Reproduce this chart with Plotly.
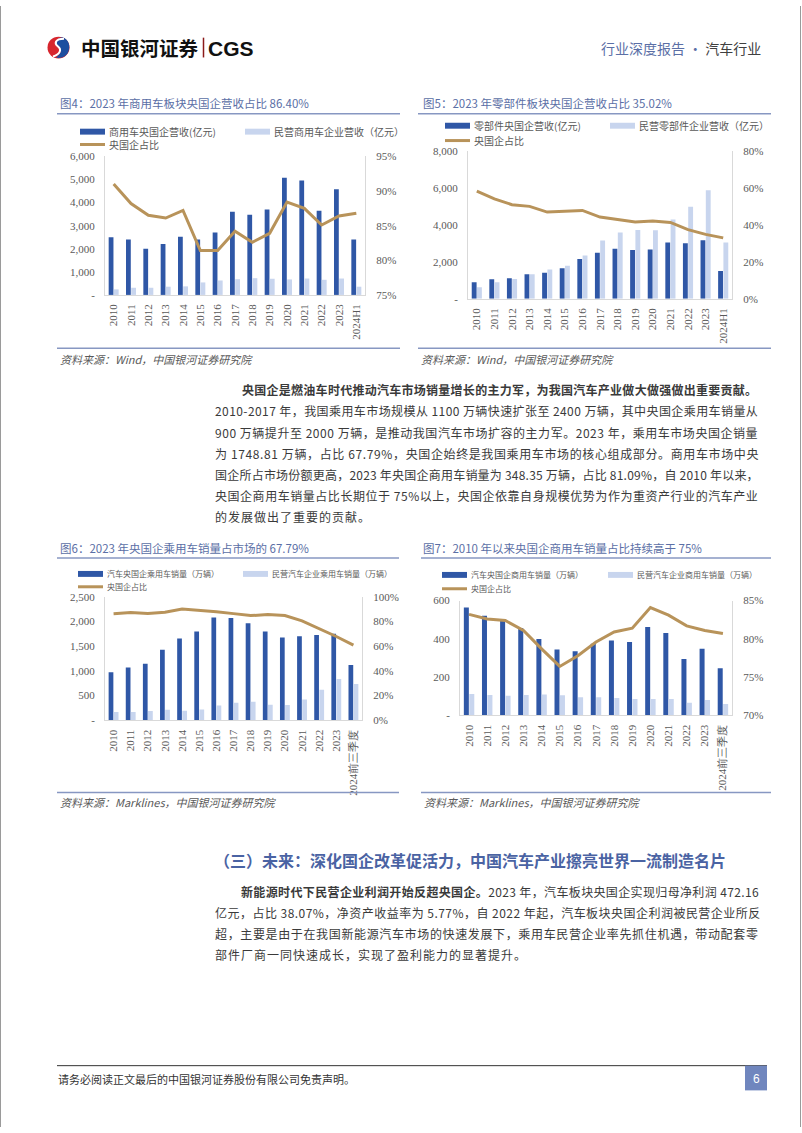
import plotly.graph_objects as go

W, H = 802, 1133
def px(x): return x / W
def py(y): return 1 - y / H

# ---------------- data ----------------
cv_categories = ["2010", "2011", "2012", "2013", "2014", "2015", "2016", "2017",
                 "2018", "2019", "2020", "2021", "2022", "2023", "2024H1"]
cv_soe_revenue = [2500, 2400, 2000, 2200, 2520, 2400, 2700, 3600, 3470, 3700, 5080, 4960, 3650, 4580, 2400]
cv_private_revenue = [240, 310, 310, 355, 370, 540, 625, 680, 725, 700, 670, 710, 655, 710, 355]
cv_soe_share = [91.0, 88.2, 86.5, 86.1, 87.2, 81.4, 81.4, 84.2, 82.6, 83.9, 88.4, 87.5, 85.1, 86.4, 86.8]

parts_categories = cv_categories
parts_soe_revenue = [900, 1060, 1115, 1330, 1420, 1655, 2160, 2500, 2715, 2645, 2680, 3060, 3020, 3180, 1510]
parts_private_revenue = [630, 900, 1080, 1330, 1600, 1800, 2355, 3165, 3600, 3740, 3720, 4300, 5000, 5900, 3060]
parts_soe_share = [58.4, 54.3, 51.1, 50.2, 47.1, 47.6, 48.0, 44.4, 43.1, 41.7, 42.2, 41.5, 37.6, 35.0, 33.1]

sales_categories = ["2010", "2011", "2012", "2013", "2014", "2015", "2016", "2017",
                    "2018", "2019", "2020", "2021", "2022", "2023", "2024前三季度"]
pv_soe_sales = [972, 1066, 1146, 1427, 1655, 1796, 2078, 2071, 1964, 1796, 1676, 1702, 1723, 1749, 1119]
pv_private_sales = [168, 168, 188, 214, 194, 221, 302, 355, 375, 315, 308, 422, 617, 838, 737]
pv_soe_share = [86.1, 87.1, 86.3, 87.4, 90.1, 89.3, 87.9, 86.3, 84.7, 85.5, 84.7, 80.4, 74.3, 67.8, 60.9]

cvs_soe_sales = [564, 521, 503, 457, 400, 345, 336, 375, 391, 384, 462, 431, 295, 348, 247]
cvs_private_sales = [112, 107, 103, 107, 109, 105, 95, 95, 91, 86, 86, 86, 66, 81, 59]
cvs_soe_share = [83.2, 82.6, 82.4, 81.1, 78.7, 76.4, 77.8, 79.6, 80.9, 81.4, 84.1, 83.1, 81.7, 81.1, 80.7]

# axis ticks
ticks4_left = [0, 1000, 2000, 3000, 4000, 5000, 6000]
ticks4_left_text = ["-", "1,000", "2,000", "3,000", "4,000", "5,000", "6,000"]
ticks4_right = [75, 80, 85, 90, 95]
ticks5_left = [0, 2000, 4000, 6000, 8000]
ticks5_left_text = ["-", "2,000", "4,000", "6,000", "8,000"]
ticks5_right = [0, 20, 40, 60, 80]
ticks6_left = [0, 500, 1000, 1500, 2000, 2500]
ticks6_left_text = ["-", "500", "1,000", "1,500", "2,000", "2,500"]
ticks6_right = [0, 20, 40, 60, 80, 100]
ticks7_left = [0, 200, 400, 600]
ticks7_left_text = ["-", "200", "400", "600"]
ticks7_right = [70, 75, 80, 85]

# ---------------- styles ----------------
DARK = "#2F57A6"
LIGHT = "#C8D5EE"
GOLD = "#B8935A"
AXIS = "#D9D9D9"
TICK = "#595959"
TITLE_C = "#5B6FA6"
RULE_C = "#8797C2"
SERIF = "Liberation Serif, Times New Roman, serif"
CJK = "Noto Sans CJK SC, sans-serif"

charts = [
    dict(cats=cv_categories, soe=cv_soe_revenue, pri=cv_private_revenue, share=cv_soe_share,
         names=("商用车央国企营收(亿元)", "民营商用车企业营收（亿元）", "央国企占比"),
         box=(105, 365, 152, 292), yl=(0, 6000, ticks4_left, ticks4_left_text), yr=(75, 95, ticks4_right),
         title="图4：2023 年商用车板块央国企营收占比 86.40%", tx=58, ty=98, rule=(57, 400, 109),
         src="资料来源：Wind，中国银河证券研究院", srule=(57, 400, 346), sy=357,
         leg=(80, 245, 127, 140), legfs=10),
    dict(cats=parts_categories, soe=parts_soe_revenue, pri=parts_private_revenue, share=parts_soe_share,
         names=("零部件央国企营收(亿元)", "民营零部件企业营收（亿元）", "央国企占比"),
         box=(468, 732, 147, 296), yl=(0, 8000, ticks5_left, ticks5_left_text), yr=(0, 80, ticks5_right),
         title="图5：2023 年零部件板块央国企营收占比 35.02%", tx=421, ty=98, rule=(418, 771, 109),
         src="资料来源：Wind，中国银河证券研究院", srule=(418, 771, 346), sy=357,
         leg=(445, 610, 121, 136), legfs=10),
    dict(cats=sales_categories, soe=pv_soe_sales, pri=pv_private_sales, share=pv_soe_share,
         names=("汽车央国企乘用车销量（万辆）", "民营汽车企业乘用车销量（万辆）", "央国企占比"),
         box=(105, 362, 597, 722), yl=(0, 2500, ticks6_left, ticks6_left_text), yr=(0, 100, ticks6_right),
         title="图6：2023 年央国企乘用车销量占市场的 67.79%", tx=58, ty=548, rule=(57, 399, 558),
         src="资料来源：Marklines，中国银河证券研究院", srule=(57, 399, 795), sy=805,
         leg=(78, 243, 574, 587), legfs=8),
    dict(cats=sales_categories, soe=cvs_soe_sales, pri=cvs_private_sales, share=cvs_soe_share,
         names=("汽车央国企商用车销量（万辆）", "民营汽车企业商用车销量（万辆）", "央国企占比"),
         box=(460, 732, 601, 717), yl=(0, 600, ticks7_left, ticks7_left_text), yr=(70, 85, ticks7_right),
         title="图7：2010 年以来央国企商用车销量占比持续高于 75%", tx=421, ty=548, rule=(421, 771, 558),
         src="资料来源：Marklines，中国银河证券研究院", srule=(421, 771, 795), sy=805,
         leg=(442, 608, 575, 589), legfs=8),
]

fig = go.Figure()
layout = dict(width=W, height=H, margin=dict(l=0, r=0, t=0, b=0),
              paper_bgcolor="white", plot_bgcolor="white", showlegend=False,
              barmode="group", bargap=0.4, bargroupgap=0.08)
shapes = []
annotations = []

def ann(text, x, y, size, color="#333333", family=CJK, xanchor="left", yanchor="middle"):
    annotations.append(dict(text=text, x=px(x), y=py(y), xref="paper", yref="paper",
                            xanchor=xanchor, yanchor=yanchor, showarrow=False,
                            font=dict(family=family, size=size, color=color)))

def hline(x0, x1, y, color, width=1):
    shapes.append(dict(type="line", xref="paper", yref="paper", x0=px(x0), x1=px(x1),
                       y0=py(y), y1=py(y), line=dict(color=color, width=width)))

def rect(x0, x1, y0, y1, color):
    shapes.append(dict(type="rect", xref="paper", yref="paper", x0=px(x0), x1=px(x1),
                       y0=py(y1), y1=py(y0), fillcolor=color, line=dict(width=0)))

tickfont = dict(family=SERIF, size=11, color=TICK)

for i, c in enumerate(charts, start=1):
    xa = "x" if i == 1 else f"x{i}"
    yl = f"y{2*i-1}" if i > 1 else "y"
    yr = f"y{2*i}"
    xkey = "xaxis" if i == 1 else f"xaxis{i}"
    ylkey = "yaxis" if i == 1 else f"yaxis{2*i-1}"
    yrkey = f"yaxis{2*i}"
    x0, x1, yt, yb = c["box"]

    fig.add_trace(go.Bar(x=c["cats"], y=c["soe"], name=c["names"][0], marker=dict(color=DARK, line=dict(width=0)),
                         xaxis=xa, yaxis=yl, offsetgroup="soe"))
    fig.add_trace(go.Bar(x=c["cats"], y=c["pri"], name=c["names"][1], marker=dict(color=LIGHT, line=dict(width=0)),
                         xaxis=xa, yaxis=yl, offsetgroup="pri"))
    fig.add_trace(go.Scatter(x=c["cats"], y=c["share"], name=c["names"][2], mode="lines",
                             line=dict(color=GOLD, width=3), xaxis=xa, yaxis=yr))

    layout[xkey] = dict(domain=[px(x0), px(x1)], anchor=yl, type="category", tickangle=-90,
                        showline=True, linecolor=AXIS, linewidth=1, ticks="", showgrid=False,
                        zeroline=False, tickfont=tickfont, ticklabelstandoff=4)
    lo, hi, tv, tt = c["yl"]
    layout[ylkey] = dict(domain=[py(yb), py(yt)], anchor=xa, range=[lo, hi], tickvals=tv, ticktext=tt,
                         showline=True, linecolor=AXIS, linewidth=1, ticks="", showgrid=False,
                         zeroline=False, tickfont=tickfont, ticklabelstandoff=7)
    rlo, rhi, rtv = c["yr"]
    layout[yrkey] = dict(overlaying=yl, side="right", anchor=xa, range=[rlo, rhi], tickvals=rtv,
                         ticktext=[f"{v}%" for v in rtv], showline=True, linecolor=AXIS, linewidth=1,
                         ticks="", showgrid=False, zeroline=False, tickfont=tickfont, ticklabelstandoff=8)

    # title + rules + source
    ann(c["title"], c["tx"], c["ty"], 11.5, TITLE_C)
    rx0, rx1, ry = c["rule"]
    hline(rx0, rx1, ry, RULE_C, 1.5)
    sx0, sx1, sry = c["srule"]
    hline(sx0, sx1, sry, RULE_C, 1.5)
    ann("<i>" + c["src"] + "</i>", sx0 + 1, c["sy"], 11, TICK)

    # legend
    lx1, lx2, ly1, ly2 = c["leg"]
    fs = c["legfs"]
    rect(lx1, lx1 + 25, ly1 - 3, ly1 + 3, DARK)
    ann(c["names"][0], lx1 + 27, ly1, fs, TICK)
    rect(lx2, lx2 + 25, ly1 - 3, ly1 + 3, LIGHT)
    ann(c["names"][1], lx2 + 27, ly1, fs, TICK)
    hline(lx1, lx1 + 25, ly2, GOLD, 3)
    ann(c["names"][2], lx1 + 27, ly2, fs, TICK)

# ---------------- page furniture ----------------
shapes.append(dict(type="line", xref="paper", yref="paper", x0=px(0.5), x1=px(0.5), y0=0, y1=1,
                   line=dict(color="#9A9A9A", width=1)))
shapes.append(dict(type="line", xref="paper", yref="paper", x0=px(800.5), x1=px(800.5), y0=0, y1=1,
                   line=dict(color="#9A9A9A", width=1)))

HY = 42  # header baseline row
def P(x, y):
    return f"{px(x):.5f},{py(y):.5f}"
shapes.append(dict(type="circle", xref="paper", yref="paper", x0=px(47.5), x1=px(69.5),
                   y0=py(HY + 11), y1=py(HY - 11), fillcolor="#D7262E", line=dict(width=0)))
shapes.append(dict(type="path", xref="paper", yref="paper",
                   path=f"M{P(62,HY-10.5)} C{P(69,HY-9)} {P(71,HY-1)} {P(68,HY+5)} C{P(66,HY+9)} {P(61,HY+11.5)} {P(56,HY+10)} "
                        f"C{P(61,HY+6)} {P(63,HY+2)} {P(58,HY-2)} C{P(54,HY-5)} {P(57,HY-9.5)} {P(62,HY-10.5)} Z",
                   fillcolor="#1E4E9F", line=dict(width=0)))
shapes.append(dict(type="path", xref="paper", yref="paper",
                   path=f"M{P(64,HY-9)} C{P(55,HY-9)} {P(54,HY-4)} {P(58,HY-1)} C{P(62,HY+2)} {P(60,HY+7)} {P(53,HY+9)}",
                   line=dict(color="white", width=2)))
ann("<b>中国银河证券</b>", 79, HY, 19.5, "#111111")
shapes.append(dict(type="line", xref="paper", yref="paper", x0=px(203.5), x1=px(203.5), y0=py(HY - 10), y1=py(HY + 10),
                   line=dict(color="#8B1A1A", width=1.5)))
ann("<b>CGS</b>", 206, HY + 0.5, 21, "#111111", family="Liberation Sans, Arial, sans-serif")
ann('<span style="color:#5B6FA6">行业深度报告 · </span>汽车行业', 763, HY, 14, "#404040", xanchor="right")

# footer
hline(57, 767, 1071, "#333333", 1)
ann("请务必阅读正文最后的中国银河证券股份有限公司免责声明。", 56, 1084, 11, "#333333")
rect(745, 767, 1071, 1096, "#7086BE")
ann("6", 756, 1084, 12, "white", family="Liberation Sans, Arial", xanchor="center")

# ---------------- body text ----------------
def est_w(s, fs):
    w = 0.0
    for ch in s:
        o = ord(ch)
        if o >= 0x2E80:
            w += 1.0
        elif ch.isdigit():
            w += 0.553
        elif ch == " ":
            w += 0.224
        elif ch in ".,":
            w += 0.26
        elif ch == "-":
            w += 0.33
        elif ch == "%":
            w += 0.86
        else:
            w += 0.55
    return w * fs

def body_line(bold, normal, x0, x1, y, fs=12, justify=True, ls_default=1.0):
    s = bold + normal
    if justify:
        ls = (x1 - x0 - est_w(s, fs)) / max(len(s) - 1, 1)
    else:
        ls = ls_default
    inner = (f"<b>{bold}</b>" if bold else "") + normal
    ann(f'<span style="letter-spacing:{ls:.2f}px">{inner}</span>', x0, y, fs, "#3a3a3a")

para1 = [
    ("央国企是燃油车时代推动汽车市场销量增长的主力军，为我国汽车产业做大做强做出重要贡献。", ""),
    ("", "2010-2017 年，我国乘用车市场规模从 1100 万辆快速扩张至 2400 万辆，其中央国企乘用车销量从"),
    ("", "900 万辆提升至 2000 万辆，是推动我国汽车市场扩容的主力军。2023 年，乘用车市场央国企销量"),
    ("", "为 1748.81 万辆，占比 67.79%，央国企始终是我国乘用车市场的核心组成部分。商用车市场中央"),
    ("", "国企所占市场份额更高，2023 年央国企商用车销量为 348.35 万辆，占比 81.09%，自 2010 年以来，"),
    ("", "央国企商用车销量占比长期位于 75%以上，央国企依靠自身规模优势为作为重资产行业的汽车产业"),
    ("", "的发展做出了重要的贡献。"),
]
for k, (b, n) in enumerate(para1):
    y = 388 + 21.3 * k
    x0 = 240 if k == 0 else 213
    body_line(b, n, x0, 755, y, justify=(k < len(para1) - 1))

ann("<b>（三）未来：深化国企改革促活力，中国汽车产业擦亮世界一流制造名片</b>", 212, 863, 16, "#4A63A3")

para2 = [
    ("新能源时代下民营企业利润开始反超央国企。", "2023 年，汽车板块央国企实现归母净利润 472.16"),
    ("", "亿元，占比 38.07%，净资产收益率为 5.77%，自 2022 年起，汽车板块央国企利润被民营企业所反"),
    ("", "超，主要是由于在我国新能源汽车市场的快速发展下，乘用车民营企业率先抓住机遇，带动配套零"),
    ("", "部件厂商一同快速成长，实现了盈利能力的显著提升。"),
]
for k, (b, n) in enumerate(para2):
    y = 895 + 21.3 * k
    x0 = 239 if k == 0 else 213
    body_line(b, n, x0, 756, y, justify=(k < len(para2) - 1))

layout["shapes"] = shapes
layout["annotations"] = annotations
fig.update_layout(**layout)
fig.write_html("out.html", config={"displayModeBar": False},
               post_script="document.body.style.margin='0';")
